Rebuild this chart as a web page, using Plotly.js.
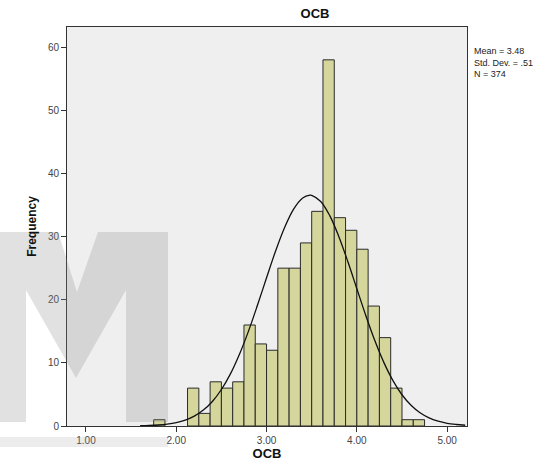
<!DOCTYPE html>
<html>
<head>
<meta charset="utf-8">
<script src="https://cdn.plot.ly/plotly-3.0.1.min.js"></script>
<style>html,body{margin:0;padding:0;background:#fff;}#chart{width:554px;height:473px;}</style>
</head>
<body>
<div id="chart"></div>
<script>
// Histogram bins (lower edges) and frequencies
const binLower = [1.75, 2.125, 2.25, 2.375, 2.5, 2.625, 2.75, 2.875, 3.0, 3.125, 3.25, 3.375, 3.5, 3.625, 3.75, 3.875, 4.0, 4.125, 4.25, 4.375, 4.5, 4.625];
const freq     = [1,    6,     2,    7,     6,   7,     16,   13,    12,  25,    25,   29,    34,  58,    33,   31,    28,  19,    14,   6,     1,   1];
const binWidth = 0.125;

// Normal curve points
const curveX = [1.6, 1.7, 1.8, 1.9, 2.0, 2.1, 2.2, 2.3, 2.4, 2.5, 2.6, 2.7, 2.8, 2.9, 3.0, 3.1, 3.2, 3.3, 3.4, 3.48, 3.5, 3.6, 3.7, 3.8, 3.9, 4.0, 4.1, 4.2, 4.3, 4.4, 4.5, 4.6, 4.7, 4.8, 4.9, 5.0, 5.1, 5.2];
const curveY = [0.04, 0.08, 0.16, 0.30, 0.54, 0.94, 1.57, 2.52, 3.88, 5.78, 8.25, 11.36, 15.03, 19.16, 23.48, 27.71, 31.45, 34.36, 36.12, 36.57, 36.54, 35.57, 33.32, 30.03, 26.05, 21.75, 17.47, 13.50, 10.04, 7.19, 4.95, 3.28, 2.09, 1.28, 0.76, 0.43, 0.24, 0.12];

const statsLines = ["Mean = 3.48", "Std. Dev. = .51", "N = 374"];
const xTicks = [1, 2, 3, 4, 5];
const yTicks = [0, 10, 20, 30, 40, 50, 60];

const FONT = "Liberation Sans, Arial, sans-serif";

// plot area geometry in pixels for watermark/annotation conversion
const L = 67, R = 467, T = 27, B = 426;
function px(x) { return (x - L) / (R - L); }
function py(y) { return (B - y) / (B - T); }
function pathFrom(points) {
  return points.map((p, i) => (i ? "L" : "M") + px(p[0]).toFixed(4) + "," + py(p[1]).toFixed(4)).join(" ") + " Z";
}

const mPoly = [[0,422],[0,232],[58,232],[77,292],[98,232],[168,232],[168,422],[126,422],[126,290],[76,378],[26,290],[26,422]];
const bandPoly = [[0,437],[168,437],[168,447],[0,447]];

const traces = [
  {
    type: "bar",
    x: binLower,
    y: freq,
    offset: 0,
    width: binWidth,
    marker: { color: "#d4d69b", line: { color: "#2b2b2b", width: 1 } },
    hoverinfo: "x+y"
  },
  {
    type: "scatter",
    mode: "lines",
    x: curveX,
    y: curveY,
    line: { color: "#111111", width: 1.3, shape: "spline" },
    hoverinfo: "skip"
  }
];

const annotations = [{
  text: statsLines.join("<br>"), xref: "paper", yref: "paper",
  x: px(472), y: py(62), xanchor: "left", yanchor: "middle", align: "left",
  showarrow: false, font: { family: FONT, size: 9, color: "#222" }
}];

const layout = {
  width: 554, height: 473,
  margin: { l: L, r: 554 - R, t: T, b: 473 - B },
  paper_bgcolor: "#ffffff",
  plot_bgcolor: "#efefef",
  showlegend: false,
  bargap: 0,
  title: {
    text: "<b>OCB</b>",
    font: { family: FONT, size: 13, color: "#111" },
    x: 315 / 554, xref: "container", xanchor: "center",
    y: 1 - 13 / 473, yref: "container", yanchor: "middle"
  },
  xaxis: {
    range: [0.79, 5.22],
    tickvals: xTicks,
    tickformat: ".2f",
    ticks: "outside", ticklen: 5, tickcolor: "#333", tickwidth: 1,
    showline: true, linecolor: "#333", linewidth: 1, mirror: true,
    showgrid: false, zeroline: false,
    tickfont: { family: FONT, size: 10, color: "#444" },
    title: { text: "<b>OCB</b>", font: { family: FONT, size: 13, color: "#111" }, standoff: 3 }
  },
  yaxis: {
    range: [0, 63.2],
    tickvals: yTicks,
    ticks: "outside", ticklen: 5, tickcolor: "#333", tickwidth: 1,
    showline: true, linecolor: "#333", linewidth: 1, mirror: true,
    showgrid: false, zeroline: false,
    tickfont: { family: FONT, size: 10, color: "#444" },
    title: { text: "<b>Frequency</b>", font: { family: FONT, size: 12, color: "#111" }, standoff: 8 }
  },
  annotations: annotations,
  shapes: [
    { type: "path", xref: "paper", yref: "paper", path: pathFrom(mPoly), fillcolor: "rgba(140,140,140,0.26)", line: { width: 0 }, layer: "above" },
    { type: "path", xref: "paper", yref: "paper", path: pathFrom(bandPoly), fillcolor: "rgba(160,160,160,0.2)", line: { width: 0 }, layer: "above" }
  ]
};

Plotly.newPlot("chart", traces, layout, { staticPlot: true, displayModeBar: false });
</script>
</body>
</html>
